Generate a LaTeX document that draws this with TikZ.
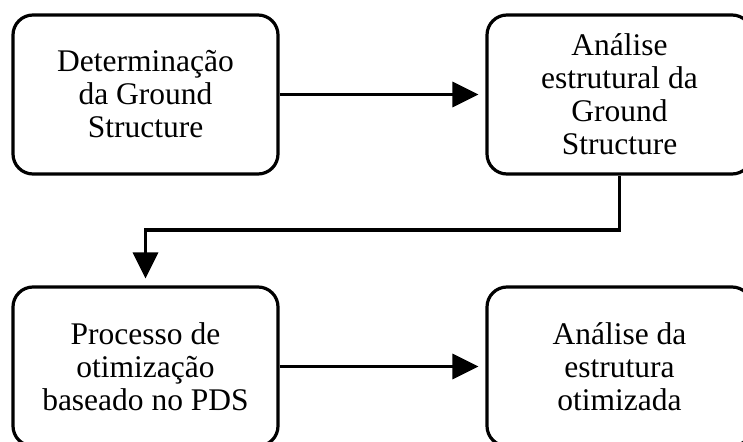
\documentclass[tikz,border=0pt]{standalone}
\usepackage{fontspec}
\setmainfont{Liberation Serif}
\usetikzlibrary{arrows.meta}
\begin{document}
\begin{tikzpicture}[x=1pt,y=-1pt,
  box/.style={draw, line width=3.2pt, rounded corners=20pt, minimum width=265pt,
    minimum height=159pt, inner sep=0pt, align=center,
    font=\fontsize{31.5pt}{33pt}\selectfont},
  conn/.style={line width=3.2pt, -{Triangle[length=26pt,width=25pt]}, shorten >=7pt}]
\useasboundingbox (0,0) rectangle (743,441);
\clip (0,0) rectangle (743,441);
\node[box] (tl) at (145.5,94.5) {Determinação\\da Ground\\Structure};
\node[box] (tr) at (619.5,94.5) {Análise\\estrutural da\\Ground\\Structure};
\node[box] (bl) at (145.5,366.5) {Processo de\\otimização\\baseado no PDS};
\node[box] (br) at (619.5,366.5) {Análise da\\estrutura\\otimizada};
\coordinate (mid) at (0,230);
\draw[conn] (tl.east) -- (tr.west);
\draw[conn] (tr.south) -- (tr.south |- mid) -| (bl.north);
\draw[conn] (bl.east) -- (br.west);
\end{tikzpicture}
\end{document}
